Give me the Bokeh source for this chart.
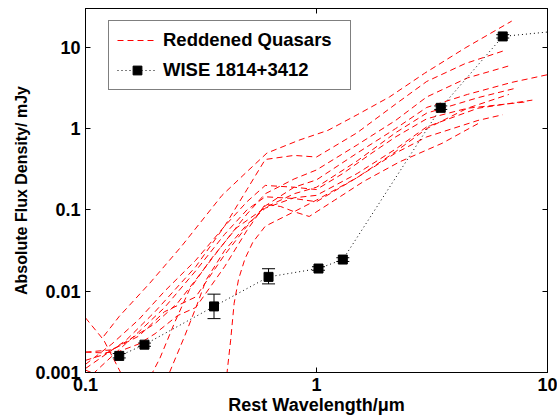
from bokeh.plotting import figure
from bokeh.models import (FixedTicker, CustomJSTickFormatter, LogAxis, Legend,
                          LegendItem, Whisker, ColumnDataSource, TeeHead, Range1d)
from bokeh.embed import file_html
from bokeh.resources import INLINE

# ---------------- data ----------------
# Reddened quasar template SEDs (rest wavelength in micron, flux in mJy)
q1_wl = [0.12, 0.14, 0.19, 0.26, 0.39, 0.5, 0.61, 0.84, 1.12, 1.5, 2.07, 2.94, 4.4, 6.5, 7.0]
q1_fx = [0.0028, 0.0049, 0.0126, 0.0355, 0.151, 0.295, 0.50, 0.72, 0.95, 1.48, 2.45, 4.8, 9.8, 18.6, 21.0]

q2_wl = [0.1, 0.15, 0.2, 0.3, 0.4, 0.5, 0.6, 0.8, 1.0, 1.5, 2.2, 3.0, 4.4, 6.5]
q2_fx = [0.00112, 0.0025, 0.0056, 0.020, 0.063, 0.178, 0.417, 0.468, 0.447, 0.89, 2.0, 3.8, 6.3, 9.1]

q3_wl = [0.1, 0.12, 0.15, 0.2, 0.25, 0.3, 0.4, 0.5, 0.6, 0.8, 1.0, 1.5, 2.2, 3.0, 4.5, 6.8]
q3_fx = [0.00141, 0.00166, 0.0024, 0.0040, 0.0071, 0.0138, 0.040, 0.089, 0.158, 0.24, 0.31, 0.63, 1.26, 2.45, 4.2, 5.9]

q4_wl = [0.1, 0.13, 0.17, 0.22, 0.3, 0.4, 0.5, 0.6, 0.8, 1.0, 1.5, 2.2, 3.0, 4.5, 7.0, 10.0]
q4_fx = [0.00178, 0.0019, 0.0028, 0.0056, 0.0085, 0.028, 0.063, 0.112, 0.19, 0.234, 0.50, 1.0, 1.82, 2.63, 3.7, 4.6]

q5_wl = [0.1, 0.12, 0.145, 0.17, 0.195, 0.21, 0.243, 0.282, 0.35, 0.45, 0.6, 0.8, 1.0, 1.5, 2.2, 3.0, 5.0, 7.35]
q5_fx = [0.0047, 0.0025, 0.00089, 0.0005, 0.001, 0.0015, 0.0041, 0.0105, 0.025, 0.060, 0.107, 0.158, 0.19, 0.40, 0.89, 1.55, 2.4, 3.16]

q6_wl = [0.1, 0.13, 0.18, 0.231, 0.268, 0.302, 0.333, 0.4, 0.5, 0.6, 0.8, 1.0, 1.5, 2.2, 3.0, 5.0, 8.6]
q6_fx = [0.00107, 0.00079, 0.0005, 0.001, 0.00275, 0.0065, 0.0138, 0.0316, 0.066, 0.105, 0.141, 0.151, 0.28, 0.56, 1.05, 1.78, 2.24]

q7_wl = [0.36, 0.41, 0.425, 0.44, 0.46, 0.49, 0.53, 0.6, 0.8, 1.0, 1.5, 2.2, 3.0, 5.0, 6.4]
q7_fx = [0.0001, 0.001, 0.0025, 0.0071, 0.0141, 0.025, 0.040, 0.063, 0.095, 0.132, 0.25, 0.50, 0.79, 1.26, 1.48]

q8_wl = [0.1, 0.12, 0.14, 0.17, 0.2, 0.25, 0.3, 0.4, 0.5, 0.6, 0.7, 0.8, 0.93, 1.2, 1.6, 2.29, 3.5, 4.3, 5.0]
q8_fx = [0.00178, 0.00174, 0.00182, 0.00224, 0.0030, 0.0050, 0.0063, 0.020, 0.056, 0.117, 0.110, 0.095, 0.083, 0.132, 0.224, 0.39, 0.66, 0.91, 1.15]

q9_wl = [0.1, 0.13, 0.17, 0.22, 0.3, 0.4, 0.5, 0.6, 0.8, 1.0, 1.3, 1.7, 2.2, 3.0, 4.5, 8.2]
q9_fx = [0.00126, 0.00224, 0.00447, 0.010, 0.024, 0.063, 0.126, 0.20, 0.19, 0.178, 0.28, 0.48, 0.79, 1.32, 1.78, 2.14]

q10_wl = [0.1, 0.13, 0.17, 0.22, 0.3, 0.4, 0.5, 0.6, 0.8, 1.0, 1.5, 2.2, 3.0, 4.5, 6.8]
q10_fx = [0.00079, 0.00158, 0.00316, 0.0063, 0.0178, 0.050, 0.10, 0.145, 0.138, 0.126, 0.25, 0.52, 1.0, 1.78, 2.63]

quasar_wl = [q1_wl, q2_wl, q3_wl, q4_wl, q5_wl, q6_wl, q7_wl, q8_wl, q9_wl, q10_wl]
quasar_fx = [q1_fx, q2_fx, q3_fx, q4_fx, q5_fx, q6_fx, q7_fx, q8_fx, q9_fx, q10_fx]

# WISE 1814+3412 photometry
wise_wl = [0.14, 0.18, 0.36, 0.62, 1.02, 1.30, 3.45, 6.4]
wise_fx = [0.0016, 0.0022, 0.0065, 0.015, 0.019, 0.0245, 1.8, 13.6]
wise_lo = [0.00151, 0.0021, 0.0046, 0.0123, 0.0181, 0.0232, 1.72, 13.0]
wise_hi = [0.00171, 0.0023, 0.0092, 0.0189, 0.0200, 0.0258, 1.90, 14.3]
# connecting line continues to a longer-wavelength point off the plot
wise_line_wl = wise_wl + [20.0]
wise_line_fx = wise_fx + [18.7]

x_ticks = [0.1, 1, 10]
y_ticks = [0.001, 0.01, 0.1, 1, 10]
x_label = "Rest Wavelength/μm"
y_label = "Absolute Flux Density/ mJy"
legend_labels = ["Reddened Quasars", "WISE 1814+3412"]

# ---------------- figure ----------------
FONT = "Liberation Sans"
p = figure(width=557, height=417, x_axis_type="log", y_axis_type="log",
           x_range=Range1d(0.1, 10), y_range=Range1d(0.001, 30),
           output_backend="svg", toolbar_location=None,
           min_border_left=85, min_border_right=10, min_border_top=8,
           min_border_bottom=43)
p.xgrid.visible = False
p.ygrid.visible = False
p.outline_line_color = "black"
p.outline_line_width = 1
p.background_fill_color = "white"
p.border_fill_color = "white"

fmt = CustomJSTickFormatter(code="return tick.toString();")
blank = CustomJSTickFormatter(code="return '';")

def style_axis(ax, label_font="18px", title_font="17px"):
    ax.major_tick_in = 5
    ax.major_tick_out = 0
    ax.minor_tick_in = 0
    ax.minor_tick_out = 0
    ax.axis_line_color = "black"
    ax.axis_line_width = 1
    ax.major_tick_line_color = "black"
    ax.major_label_text_font = FONT
    ax.major_label_text_font_style = "bold"
    ax.major_label_text_font_size = label_font
    ax.major_label_text_color = "black"
    ax.axis_label_text_font = FONT
    ax.axis_label_text_font_style = "bold"
    ax.axis_label_text_font_size = title_font
    ax.axis_label_text_color = "black"

xa = p.xaxis[0]
xa.ticker = FixedTicker(ticks=x_ticks, minor_ticks=[])
xa.formatter = fmt
xa.axis_label = x_label
style_axis(xa, "18px", "18px")
xa.major_label_standoff = 5
xa.axis_label_standoff = 1

ya = p.yaxis[0]
ya.ticker = FixedTicker(ticks=y_ticks, minor_ticks=[])
ya.formatter = fmt
ya.axis_label = y_label
style_axis(ya, "18px", "16px")
ya.major_label_standoff = 5
ya.axis_label_standoff = 2

top = LogAxis(ticker=FixedTicker(ticks=x_ticks, minor_ticks=[]), formatter=blank)
style_axis(top, "0px")
top.major_label_standoff = 0
p.add_layout(top, "above")

right = LogAxis(ticker=FixedTicker(ticks=y_ticks, minor_ticks=[]), formatter=blank)
style_axis(right, "0px")
right.major_label_standoff = 0
p.add_layout(right, "right")

# quasar curves
q_renderers = []
for wl, fx in zip(quasar_wl, quasar_fx):
    r = p.line(wl, fx, line_color="#ff0000", line_width=1, line_dash="6 4")
    q_renderers.append(r)

# WISE source
dot_r = p.line(wise_line_wl, wise_line_fx, line_color="black", line_width=1,
               line_dash="1 3")
src = ColumnDataSource(dict(x=wise_wl, y=wise_fx, lo=wise_lo, hi=wise_hi))
wh = Whisker(base="x", upper="hi", lower="lo", source=src, dimension="height",
             line_color="black", line_width=1,
             upper_head=TeeHead(size=13, line_color="black", line_width=1),
             lower_head=TeeHead(size=13, line_color="black", line_width=1))
p.add_layout(wh)
sq_r = p.scatter("x", "y", source=src, marker="square", size=9,
                 fill_color="black", line_color="black")

legend = Legend(items=[LegendItem(label=legend_labels[0], renderers=[q_renderers[0]]),
                       LegendItem(label=legend_labels[1], renderers=[dot_r, sq_r])],
                location=(23, 282))
legend.border_line_color = "black"
legend.border_line_width = 1
legend.background_fill_color = "white"
legend.background_fill_alpha = 1
legend.label_text_font = FONT
legend.label_text_font_style = "bold"
legend.label_text_font_size = "18.5px"
legend.label_text_color = "black"
legend.glyph_width = 40
legend.glyph_height = 22
legend.label_height = 22
legend.label_width = 179
legend.label_standoff = 6
legend.padding = 8
legend.spacing = 8
legend.margin = 0
p.add_layout(legend)

open("out.html", "w").write(file_html(p, INLINE))
